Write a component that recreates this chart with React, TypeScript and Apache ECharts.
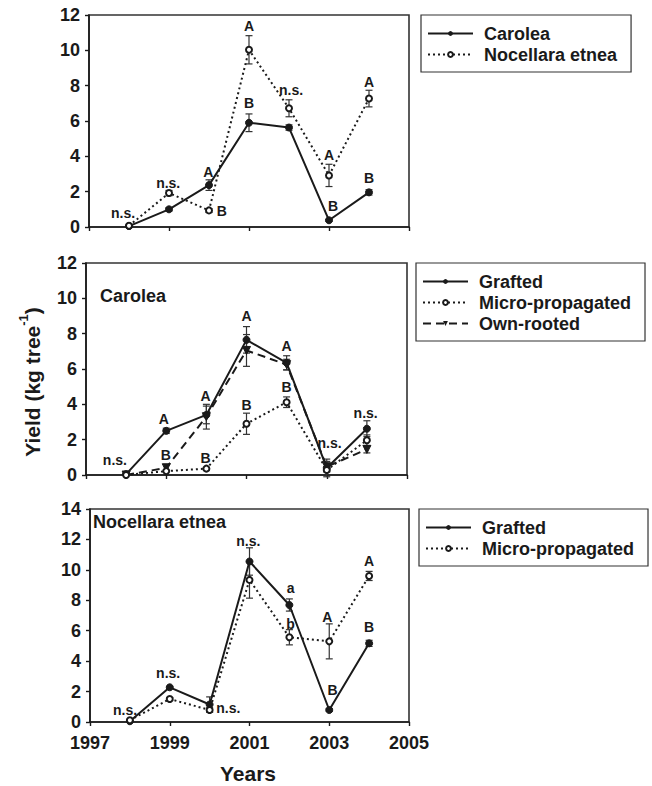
import React, { useEffect, useRef } from "react";
import * as echarts from "echarts";

const FONT = "Liberation Sans, Arial, Helvetica, sans-serif";

const years = [1998, 1999, 2000, 2001, 2002, 2003, 2004];
const xTicks = [1997, 1999, 2001, 2003, 2005];

// Panel 1: cultivar comparison
const p1Carolea = [0.05, 1.0, 2.37, 5.9, 5.63, 0.38, 1.96];
const p1CaroleaErr = [0, 0.1, 0.3, 0.5, 0.15, 0.05, 0.15];
const p1Nocellara = [0.07, 1.92, 0.94, 10.03, 6.72, 2.92, 7.27];
const p1NocellaraErr = [0, 0.15, 0.1, 0.8, 0.48, 0.63, 0.47];
const p1Labels: [number, number, string][] = [
  [1997.85, 0.8, "n.s."],
  [1998.98, 2.5, "n.s."],
  [1999.98, 3.1, "A"],
  [2000.32, 0.9, "B"],
  [2001.0, 11.4, "A"],
  [2001.0, 7.0, "B"],
  [2002.05, 7.75, "n.s."],
  [2003.0, 4.07, "A"],
  [2003.1, 1.19, "B"],
  [2004.0, 8.2, "A"],
  [2004.0, 2.77, "B"],
];

// Panel 2: Carolea propagation methods
const p2Grafted = [0.05, 2.5, 3.4, 7.65, 6.35, 0.4, 2.62];
const p2GraftedErr = [0, 0.15, 0.5, 0.75, 0.4, 0.5, 0.45];
const p2Micro = [0.0, 0.22, 0.36, 2.9, 4.12, 0.28, 1.97];
const p2MicroErr = [0, 0, 0, 0.6, 0.3, 0.05, 0.3];
const p2Own = [0.0, 0.41, 3.3, 7.05, 6.25, 0.47, 1.45];
const p2OwnErr = [0, 0, 0.7, 0.9, 0.3, 0.3, 0.2];
const p2Labels: [number, number, string][] = [
  [1997.72, 0.85, "n.s."],
  [1998.94, 3.17, "A"],
  [1998.99, 1.13, "B"],
  [1999.98, 4.47, "A"],
  [1999.98, 0.96, "B"],
  [2001.0, 9.0, "A"],
  [2001.0, 3.96, "B"],
  [2002.0, 7.3, "A"],
  [2002.0, 4.98, "B"],
  [2003.07, 1.81, "n.s."],
  [2003.97, 3.5, "n.s."],
];

// Panel 3: Nocellara etnea propagation methods
const p3Grafted = [0.05, 2.28, 1.15, 10.55, 7.69, 0.79, 5.17];
const p3GraftedErr = [0, 0.05, 0.5, 0.9, 0.4, 0.1, 0.2];
const p3Micro = [0.12, 1.51, 0.79, 9.34, 5.57, 5.3, 9.6];
const p3MicroErr = [0, 0.1, 0.15, 1.2, 0.5, 1.15, 0.3];
const p3Labels: [number, number, string][] = [
  [1997.88, 0.79, "n.s."],
  [1998.96, 3.22, "n.s."],
  [2000.47, 0.94, "n.s."],
  [2000.97, 11.9, "n.s."],
  [2002.03, 8.79, "a"],
  [2002.03, 6.42, "b"],
  [2002.95, 6.93, "A"],
  [2003.08, 2.1, "B"],
  [2004.0, 10.6, "A"],
  [2004.0, 6.23, "B"],
];

const INK = "#1a1a1a";

const solidStyle = (name: string, data: number[], idx: number) => ({
  name,
  type: "line",
  xAxisIndex: idx,
  yAxisIndex: idx,
  data: years.map((y, i) => [y, data[i]]),
  symbol: "circle",
  symbolSize: 7,
  lineStyle: { color: INK, width: 2, type: "solid" },
  itemStyle: { color: INK, borderColor: INK },
  z: 4,
});

const dottedStyle = (name: string, data: number[], idx: number) => ({
  name,
  type: "line",
  xAxisIndex: idx,
  yAxisIndex: idx,
  data: years.map((y, i) => [y, data[i]]),
  symbol: "emptyCircle",
  symbolSize: 6,
  lineStyle: { color: INK, width: 2, type: [2, 3] },
  itemStyle: { color: INK, borderColor: INK, borderWidth: 1.2 },
  z: 5,
});

const dashedStyle = (name: string, data: number[], idx: number) => ({
  name,
  type: "line",
  xAxisIndex: idx,
  yAxisIndex: idx,
  data: years.map((y, i) => [y, data[i]]),
  symbol: "triangle",
  symbolRotate: 180,
  symbolSize: 8,
  lineStyle: { color: INK, width: 2, type: [8, 5] },
  itemStyle: { color: INK, borderColor: INK },
  z: 4,
});

const errorBars = (vals: number[], errs: number[], idx: number) => ({
  type: "custom",
  xAxisIndex: idx,
  yAxisIndex: idx,
  silent: true,
  z: 3,
  encode: { x: 0, y: 1 },
  data: years.map((y, i) => [y, vals[i], errs[i]]),
  renderItem: (params: any, api: any) => {
    const x = api.value(0);
    const v = api.value(1);
    const e = api.value(2);
    if (!e) return null;
    const top = api.coord([x, v + e]);
    const bot = api.coord([x, v - e]);
    const hw = 3.5;
    const st = { stroke: "#333", lineWidth: 1.2 };
    return {
      type: "group",
      children: [
        { type: "line", shape: { x1: top[0], y1: top[1], x2: bot[0], y2: bot[1] }, style: st },
        { type: "line", shape: { x1: top[0] - hw, y1: top[1], x2: top[0] + hw, y2: top[1] }, style: st },
        { type: "line", shape: { x1: bot[0] - hw, y1: bot[1], x2: bot[0] + hw, y2: bot[1] }, style: st },
      ],
    };
  },
});

const labelSeries = (labels: [number, number, string][], idx: number) => ({
  type: "custom",
  xAxisIndex: idx,
  yAxisIndex: idx,
  silent: true,
  z: 6,
  clip: false,
  encode: { x: 0, y: 1 },
  data: labels.map((l) => [l[0], l[1]]),
  renderItem: (params: any, api: any) => {
    const p = api.coord([api.value(0), api.value(1)]);
    return {
      type: "text",
      x: p[0],
      y: p[1],
      style: {
        text: labels[params.dataIndex][2],
        font: `bold 14px ${FONT}`,
        fill: INK,
        align: "center",
        verticalAlign: "middle",
      },
    };
  },
});

const grids = [
  { left: 89, top: 15, width: 320, height: 212 },
  { left: 86, top: 263, width: 321, height: 212 },
  { left: 90, top: 509, width: 319, height: 213 },
];
const yMax = [12, 12, 14];

const axisLineStyle = { lineStyle: { color: INK, width: 1.6 } };

export default function App() {
  const ref = useRef<HTMLDivElement>(null);
  useEffect(() => {
    if (!ref.current) return;
    const chart = echarts.init(ref.current, undefined, { renderer: "svg" });
    const legendCommon = {
      orient: "vertical",
      selectedMode: false,
      backgroundColor: "#fff",
      borderColor: "#333",
      borderWidth: 1.2,
      borderRadius: 0,
      padding: [8, 14, 7, 6],
      itemGap: 0,
      itemWidth: 45,
      itemHeight: 6,
      textStyle: {
        fontFamily: FONT,
        fontWeight: "bold",
        fontSize: 18,
        color: INK,
        lineHeight: 21,
        padding: [0, 0, 0, 6],
      },
    };
    const option: any = {
      animation: false,
      backgroundColor: "#fff",
      grid: grids.map((g) => ({ ...g, show: true, borderColor: "#333", borderWidth: 1.6, backgroundColor: "transparent" })),
      xAxis: grids.map((g, i) => ({
        type: "value",
        gridIndex: i,
        min: 1997,
        max: 2005,
        interval: 2,
        splitLine: { show: false },
        axisLine: axisLineStyle,
        axisTick: { show: true, inside: false, length: 4, lineStyle: { color: INK, width: 1.4 } },
        axisLabel: {
          show: i === 2,
          margin: 12,
          fontFamily: FONT,
          fontWeight: "bold",
          fontSize: 18,
          color: INK,
          formatter: (v: number) => (xTicks.includes(v) ? String(v) : ""),
        },
      })),
      yAxis: grids.map((g, i) => ({
        type: "value",
        gridIndex: i,
        min: 0,
        max: yMax[i],
        interval: 2,
        splitLine: { show: false },
        axisLine: { show: true, ...axisLineStyle },
        axisTick: { show: true, inside: false, length: 4, lineStyle: { color: INK, width: 1.4 } },
        axisLabel: {
          margin: 9,
          fontFamily: FONT,
          fontWeight: "bold",
          fontSize: 18,
          color: INK,
        },
      })),
      legend: [
        { ...legendCommon, left: 421, top: 15, data: ["Carolea", "Nocellara etnea"] },
        { ...legendCommon, left: 416, top: 263, data: ["Grafted", "Micro-propagated", "Own-rooted"] },
        { ...legendCommon, left: 419, top: 509, data: ["Grafted", "Micro-propagated"] },
      ],
      series: [
        errorBars(p1Carolea, p1CaroleaErr, 0),
        errorBars(p1Nocellara, p1NocellaraErr, 0),
        solidStyle("Carolea", p1Carolea, 0),
        dottedStyle("Nocellara etnea", p1Nocellara, 0),
        labelSeries(p1Labels, 0),

        errorBars(p2Grafted, p2GraftedErr, 1),
        errorBars(p2Micro, p2MicroErr, 1),
        errorBars(p2Own, p2OwnErr, 1),
        solidStyle("Grafted", p2Grafted, 1),
        dottedStyle("Micro-propagated", p2Micro, 1),
        dashedStyle("Own-rooted", p2Own, 1),
        labelSeries(p2Labels, 1),

        errorBars(p3Grafted, p3GraftedErr, 2),
        errorBars(p3Micro, p3MicroErr, 2),
        solidStyle("Grafted", p3Grafted, 2),
        dottedStyle("Micro-propagated", p3Micro, 2),
        labelSeries(p3Labels, 2),
      ],
      graphic: [
        {
          type: "text",
          left: 100,
          top: 287,
          style: { text: "Carolea", font: `bold 18px ${FONT}`, fill: INK },
        },
        {
          type: "text",
          left: 93,
          top: 513,
          style: { text: "Nocellara etnea", font: `bold 18px ${FONT}`, fill: INK },
        },
        {
          type: "text",
          x: 30,
          y: 382,
          rotation: Math.PI / 2,
          style: {
            text: "{a|Yield (kg tree}{s|-1}{a|)}",
            align: "center",
            verticalAlign: "middle",
            rich: {
              a: { fontFamily: FONT, fontWeight: "bold", fontSize: 21, fill: INK, lineHeight: 26, verticalAlign: "bottom" },
              s: { fontFamily: FONT, fontWeight: "bold", fontSize: 13, fill: INK, lineHeight: 26, verticalAlign: "top", padding: [0, 0, 10, 0] },
            },
          },
        },
        {
          type: "text",
          x: 248,
          y: 773,
          style: { text: "Years", font: `bold 21px ${FONT}`, fill: INK, align: "center", verticalAlign: "middle" },
        },
      ],
    };
    chart.setOption(option);
    return () => chart.dispose();
  }, []);
  return (
    <div
      ref={ref}
      style={{ position: "absolute", left: 0, top: 0, width: 652, height: 786 }}
    />
  );
}
